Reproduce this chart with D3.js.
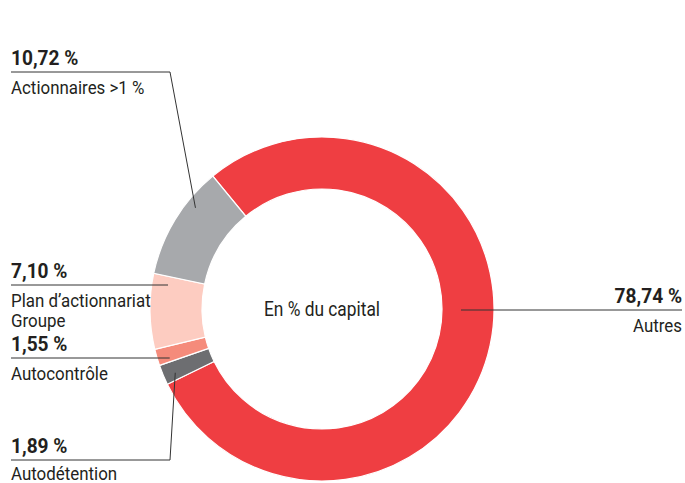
<!DOCTYPE html>
<html>
<head>
<meta charset="utf-8">
<script src="https://cdn.jsdelivr.net/npm/d3@7"></script>
<style>
  html, body { margin: 0; padding: 0; background: #fff; }
  svg text { font-family: Roboto, "Liberation Sans", sans-serif; fill: #231f20; }
  .pct { font-weight: bold; font-size: 21px; }
  .lbl { font-size: 19px; }
</style>
</head>
<body>
<div id="chart"></div>
<script>
// data, in pie order (clockwise)
const categories = ['Autres', 'Autodétention', 'Autocontrôle', 'Plan d\u2019actionnariat Groupe', 'Actionnaires >1 %'];
const shares     = [78.74, 1.89, 1.55, 7.10, 10.72];
const pctLabels  = ['78,74 %', '1,89 %', '1,55 %', '7,10 %', '10,72 %'];
const nameLines  = [['Autres'], ['Autodétention'], ['Autocontrôle'], ['Plan d\u2019actionnariat', 'Groupe'], ['Actionnaires >1 %']];
const colors     = ['#ef3e42', '#6d6e71', '#f58b7b', '#fdccc1', '#a7a9ac'];

// layout
const width = 685, height = 483;
const cx = 322, cy = 309, outerR = 172, innerR = 120;
const startAngle = -39.4 * Math.PI / 180;
const narrow = 0.89; // condensed look
// where leader lines touch the slices: fraction of the slice angle, radius
const anchorFrac = [0.458, 0.36, 0.23, 0.89, 0.69];
const anchorR    = [139, 160, 160, 156, 162];
// label line y, side, elbow
const lineY  = [310, 460, 358, 285, 72];
const side   = ['right', 'left', 'left', 'left', 'left'];
const elbowX = [null, 170, null, null, 170];

const svg = d3.select('#chart').append('svg')
  .attr('width', width)
  .attr('height', height);

const pie = d3.pie().sort(null).value(d => d)
  .startAngle(startAngle).endAngle(startAngle + 2 * Math.PI);
const arcs = pie(shares);
const arc = d3.arc().innerRadius(innerR).outerRadius(outerR);

const g = svg.append('g').attr('transform', `translate(${cx}, ${cy})`);
g.selectAll('path.slice')
  .data(arcs)
  .enter().append('path')
  .attr('class', 'slice')
  .attr('d', arc)
  .attr('fill', (d, i) => colors[i])
  .attr('stroke', '#fff')
  .attr('stroke-width', 1.2);

g.append('text')
  .attr('text-anchor', 'middle')
  .attr('transform', `translate(0, 7) scale(${narrow}, 1)`)
  .style('font-size', '19.5px')
  .text('En % du capital');

function putText(cls, x, y, anchor, txt, sx) {
  svg.append('text')
    .attr('class', cls)
    .attr('transform', `translate(${x}, ${y}) scale(${sx}, 1)`)
    .attr('text-anchor', anchor)
    .text(txt);
}

// leader lines + labels
arcs.forEach((d, i) => {
  const a = d.startAngle + (d.endAngle - d.startAngle) * anchorFrac[i];
  const ax = cx + anchorR[i] * Math.sin(a);
  const ay = cy - anchorR[i] * Math.cos(a);
  const y = lineY[i];
  let pts;
  if (side[i] === 'right') {
    pts = [[ax, y], [682, y]];
  } else if (elbowX[i] !== null) {
    pts = [[11, y], [elbowX[i], y], [ax, ay]];
  } else {
    pts = [[11, y], [ax, y]];
  }
  svg.append('path')
    .attr('d', d3.line()(pts))
    .attr('fill', 'none')
    .attr('stroke', '#333')
    .attr('stroke-width', 1);

  const tx = side[i] === 'right' ? 682 : 11;
  const anchor = side[i] === 'right' ? 'end' : 'start';
  putText('pct', tx, y - 7, anchor, pctLabels[i], 0.91);
  nameLines[i].forEach((t, k) => {
    putText('lbl', tx, Math.min(y + 22 + k * 20, 480), anchor, t, narrow);
  });
});
</script>
</body>
</html>
